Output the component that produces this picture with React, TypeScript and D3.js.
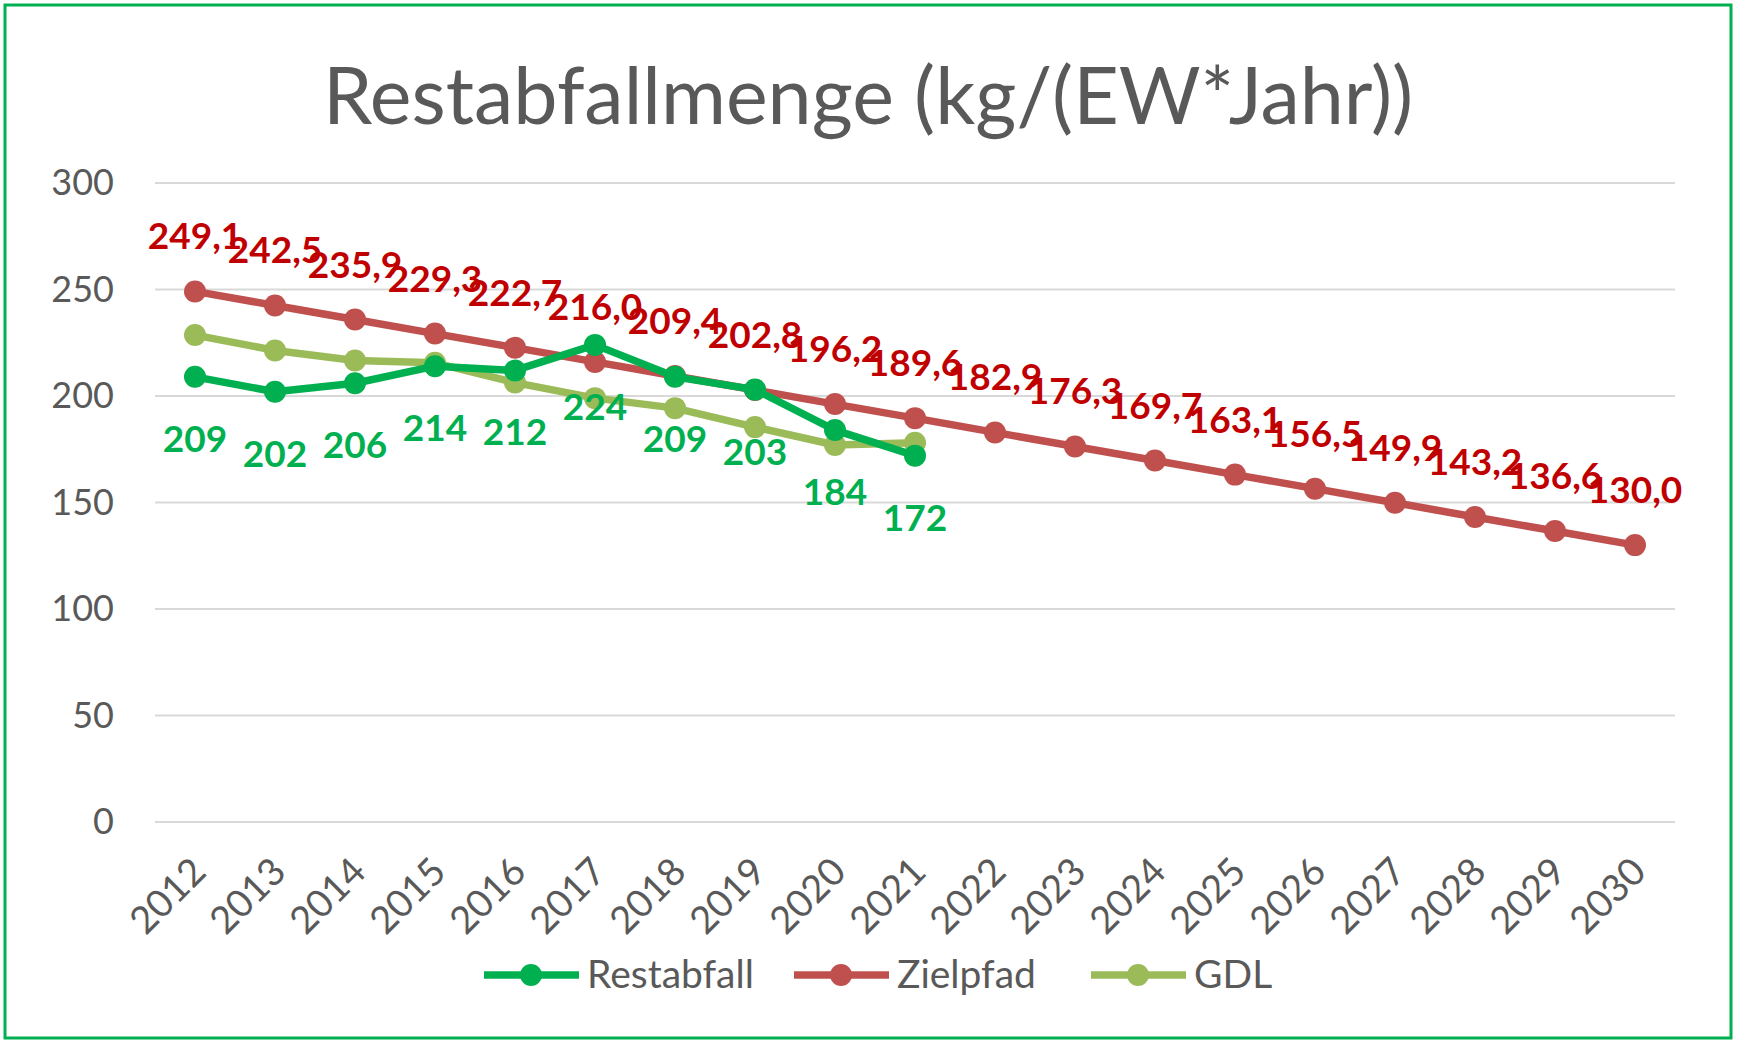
import React from "react";
import * as d3 from "d3";

const years = ["2012","2013","2014","2015","2016","2017","2018","2019","2020","2021","2022","2023","2024","2025","2026","2027","2028","2029","2030"];
const restabfall = [209, 202, 206, 214, 212, 224, 209, 203, 184, 172];
const zielpfad = [249.1, 242.5, 235.9, 229.3, 222.7, 216.0, 209.4, 202.8, 196.2, 189.6, 182.9, 176.3, 169.7, 163.1, 156.5, 149.9, 143.2, 136.6, 130.0];
const gdl = [228.6, 221.4, 216.7, 215.6, 206.3, 199.0, 194.3, 185.4, 177.0, 178.0];
const yTicks = [0, 50, 100, 150, 200, 250, 300];
const title = "Restabfallmenge (kg/(EW*Jahr))";
const seriesNames = ["Restabfall", "Zielpfad", "GDL"];

const W = 1737, H = 1041;
const FONT = "Lato, 'Open Sans', sans-serif";
const C_REST = "#00B050";
const C_ZIEL = "#C0504D";
const C_GDL = "#9BBB59";
const C_ZIEL_LABEL = "#C00000";
const TXT = "#595959";

export default function App() {
  const x = d3.scaleBand<string>().domain(years).range([155, 1675]).padding(0);
  const y = d3.scaleLinear().domain([0, 300]).range([822, 183]);
  const cx = (i: number) => (x(years[i]) as number) + x.bandwidth() / 2;
  const line = d3.line<number>().x((_, i) => cx(i)).y((d) => y(d));
  const fmt = (v: number) => v.toFixed(1).replace(".", ",");

  const series = [
    { data: restabfall, color: C_REST },
    { data: zielpfad, color: C_ZIEL },
    { data: gdl, color: C_GDL },
  ];
  const drawOrder = [series[1], series[2], series[0]];
  const legendColors = [C_REST, C_ZIEL, C_GDL];
  const legendX = [484, 794, 1091];

  return (
    <svg width={W} height={H} style={{ position: "absolute", left: 0, top: 0, background: "#fff" }} fontFamily={FONT}>
      <rect x={0} y={0} width={W} height={H} fill="#fff" />
      <rect x={5} y={5} width={1726} height={1033} fill="none" stroke={C_REST} strokeWidth={3} />
      <text x={868} y={124} textAnchor="middle" fontSize={79} fill={TXT}>{title}</text>

      {yTicks.map((t) => (
        <g key={t}>
          <line x1={155} x2={1675} y1={y(t)} y2={y(t)} stroke="#D9D9D9" strokeWidth={2} />
          <text x={114} y={y(t) + 12} textAnchor="end" fontSize={36} fill={TXT}>{t}</text>
        </g>
      ))}

      {years.map((yr, i) => (
        <text key={yr} transform={`translate(${cx(i) + 13},${874}) rotate(-45)`} textAnchor="end" fontSize={38} fill={TXT}>{yr}</text>
      ))}

      {drawOrder.map((s, k) => (
        <g key={k}>
          <path d={line(s.data) || ""} fill="none" stroke={s.color} strokeWidth={7.5} strokeLinejoin="round" />
          {s.data.map((v, i) => (
            <circle key={i} cx={cx(i)} cy={y(v)} r={11} fill={s.color} />
          ))}
        </g>
      ))}

      {zielpfad.map((v, i) => (
        <text key={"z" + i} x={cx(i)} y={y(v) - 42} textAnchor="middle" fontSize={37} fontWeight="bold" fill={C_ZIEL_LABEL}>{fmt(v)}</text>
      ))}
      {restabfall.map((v, i) => (
        <text key={"r" + i} x={cx(i)} y={y(v) + 75} textAnchor="middle" fontSize={37} fontWeight="bold" fill={C_REST}>{v}</text>
      ))}

      {seriesNames.map((n, i) => (
        <g key={n}>
          <line x1={legendX[i]} x2={legendX[i] + 95} y1={975} y2={975} stroke={legendColors[i]} strokeWidth={7.5} />
          <circle cx={legendX[i] + 47} cy={975} r={11} fill={legendColors[i]} />
          <text x={legendX[i] + 103} y={988} fontSize={39} fill={TXT}>{n}</text>
        </g>
      ))}
    </svg>
  );
}
